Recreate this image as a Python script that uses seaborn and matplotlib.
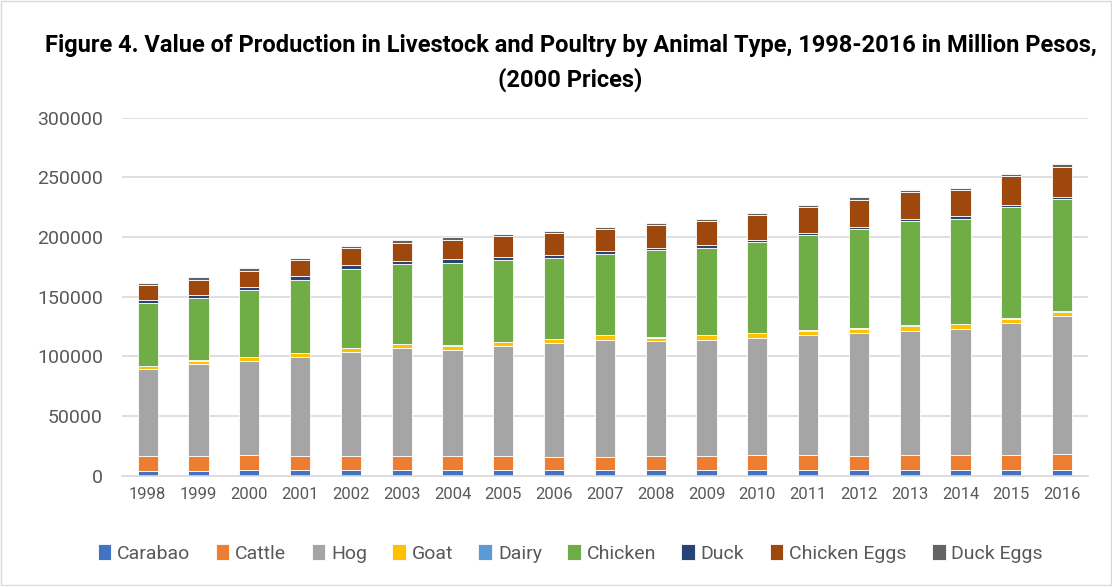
import matplotlib
matplotlib.use("Agg")
import matplotlib.pyplot as plt
import seaborn as sns
import numpy as np

years = [str(y) for y in range(1998, 2017)]

carabao = [4000, 4400, 4700, 4700, 5300, 5300, 5000, 5000, 5000, 5000,
           5000, 5300, 5300, 5300, 5000, 5000, 5000, 5000, 5300]
cattle = [12300, 12500, 12800, 12200, 11600, 11600, 11900, 11700, 10800, 10800,
          11400, 11600, 12200, 12200, 11900, 12500, 12800, 12800, 12800]
hog = [72800, 76400, 78300, 82300, 86700, 90100, 88900, 91900, 95300, 97800,
       96400, 97300, 98100, 100600, 102600, 104200, 105000, 110000, 115500]
goat = [3000, 3300, 3400, 3600, 3600, 3300, 3400, 3600, 3300, 4200,
        3000, 3600, 3800, 3600, 3800, 3900, 4200, 3900, 3900]
dairy = [300, 300, 300, 300, 300, 300, 300, 300, 300, 350,
         350, 350, 400, 400, 400, 400, 400, 400, 400]
chicken = [52000, 51900, 56400, 61400, 65900, 66900, 69100, 68100, 68100, 68000,
           72800, 73000, 76200, 79700, 83100, 87200, 88000, 93300, 94200]
duck = [2800, 2500, 2700, 2800, 3000, 2800, 2800, 2800, 2200, 2300,
        2000, 2000, 1600, 1400, 1700, 1700, 2000, 1700, 1600]
chicken_eggs = [12500, 12500, 12800, 13300, 14200, 15000, 15900, 17200, 18100, 18000,
                18900, 20000, 21100, 22200, 23000, 23000, 22200, 24100, 25300]
duck_eggs = [1900, 2500, 2500, 2200, 1900, 2200, 2500, 2200, 2200, 2000,
             1900, 1700, 1700, 1700, 2000, 2000, 1900, 2000, 2000]

series = [
    ("Carabao", carabao, "#4472C4"),
    ("Cattle", cattle, "#ED7D31"),
    ("Hog", hog, "#A5A5A5"),
    ("Goat", goat, "#FFC000"),
    ("Dairy", dairy, "#5B9BD5"),
    ("Chicken", chicken, "#70AD47"),
    ("Duck", duck, "#264478"),
    ("Chicken Eggs", chicken_eggs, "#9E480E"),
    ("Duck Eggs", duck_eggs, "#636363"),
]

sns.set_theme(style="white")
plt.rcParams["font.family"] = ["Roboto", "DejaVu Sans"]

fig = plt.figure(figsize=(11.12, 5.86), dpi=100)
ax = fig.add_axes([0.110, 0.188, 0.868, 0.611])

bottom = np.zeros(len(years))
for name, vals, col in series:
    sns.barplot(x=years, y=vals, bottom=bottom, color=col, saturation=1, width=0.4,
                edgecolor="white", linewidth=0.6, errorbar=None,
                label=name, ax=ax)
    bottom = bottom + np.array(vals)

handles, labels = ax.get_legend_handles_labels()
if ax.get_legend() is not None:
    ax.get_legend().remove()

ax.set_ylim(0, 300000)
ax.set_xlim(-0.5, 18.5)
ax.set_yticks(range(0, 300001, 50000))
ax.yaxis.grid(True, color="#d9d9d9", linewidth=1.2)
ax.set_axisbelow(True)
for s in ["top", "right", "left"]:
    ax.spines[s].set_visible(False)
ax.spines["bottom"].set_color("#d9d9d9")
ax.spines["bottom"].set_linewidth(1.2)
ax.tick_params(axis="y", labelsize=14, colors="#595959", length=0, pad=14)
ax.tick_params(axis="x", labelsize=12, colors="#595959", length=0, pad=8)
ax.set_xlabel("")
ax.set_ylabel("")

fig.text(0.513, 0.922, "Figure 4. Value of Production in Livestock and Poultry by Animal Type, 1998-2016 in Million Pesos,",
         ha="center", va="center", fontsize=17, fontweight="bold", color="black")
fig.text(0.513, 0.864, "(2000 Prices)", ha="center", va="center",
         fontsize=17, fontweight="bold", color="black")

fig.legend(handles, labels, loc="center", bbox_to_anchor=(0.513, 0.056), ncol=9,
           frameon=False, fontsize=14, handlelength=0.7, handleheight=0.9,
           handletextpad=0.3, columnspacing=1.3, labelcolor="#595959")

fig.patches.append(plt.Rectangle((0.001, 0.001), 0.998, 0.998, transform=fig.transFigure,
                                 fill=False, edgecolor="#d9d9d9", linewidth=1))

fig.savefig("out.png", dpi=100)
